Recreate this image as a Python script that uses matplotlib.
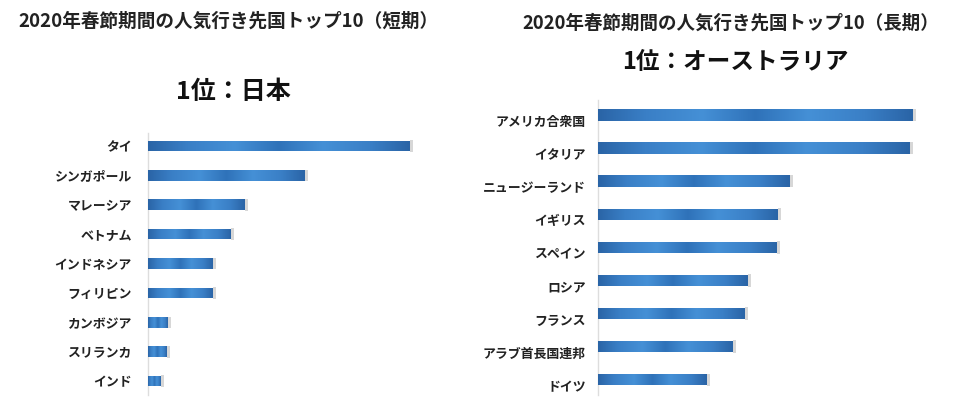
import matplotlib
matplotlib.use("Agg")
import matplotlib.pyplot as plt
import matplotlib.transforms as mtransforms
from matplotlib.colors import LinearSegmentedColormap
import numpy as np

plt.rcParams['font.family'] = ['Noto Sans CJK JP', 'DejaVu Sans']

# ---- data ----
title_short = "2020年春節期間の人気行き先国トップ10（短期）"
sub_short = "1位：日本"
cats_short = ["タイ", "シンガポール", "マレーシア", "ベトナム", "インドネシア",
              "フィリピン", "カンボジア", "スリランカ", "インド"]
vals_short = [261, 156, 96, 82, 64, 64, 19, 18, 12]

title_long = "2020年春節期間の人気行き先国トップ10（長期）"
sub_long = "1位：オーストラリア"
cats_long = ["アメリカ合衆国", "イタリア", "ニュージーランド", "イギリス", "スペイン",
             "ロシア", "フランス", "アラブ首長国連邦", "ドイツ"]
vals_long = [314, 311, 191, 179, 178, 149, 146, 134, 108]

W, H = 962, 411
fig = plt.figure(figsize=(W / 100, H / 100), dpi=100)
fig.patch.set_facecolor("white")

cmap = LinearSegmentedColormap.from_list("bar", [
    (0.0, "#2a64a6"), (0.15, "#3a7fc6"), (0.33, "#4590d6"),
    (0.5, "#2f72b9"), (0.67, "#4590d6"), (0.85, "#3a7fc6"), (1.0, "#2a64a6")])
grad = np.linspace(0, 1, 256).reshape(1, -1)


def panel(rect_px, cats, vals, xmax, ylim, bar_h, label_pad, label_dy):
    l, r, t, b = rect_px
    ax = fig.add_axes([l / W, 1 - b / H, (r - l) / W, (b - t) / H])
    y = np.arange(len(cats))
    bars = ax.barh(y, vals, height=bar_h, color="#3a7fc6", zorder=2)
    for rect in bars:
        x0, y0 = rect.get_x(), rect.get_y()
        w, h = rect.get_width(), rect.get_height()
        # soft shadow at right end
        ax.barh(y0 + h / 2, 3, left=x0 + w, height=h * 1.1,
                color="#b0b0b0", alpha=0.5, zorder=1)
        im = ax.imshow(grad, extent=(x0, x0 + w, y0 + h, y0), cmap=cmap,
                       aspect="auto", zorder=3, interpolation="bilinear")
        im.set_clip_path(rect)
    ax.set_xlim(0, xmax)
    ax.set_ylim(*ylim)
    ax.set_yticks(y)
    ax.set_yticklabels(cats, fontsize=9.3, fontweight="bold", color="#222222")
    ax.tick_params(axis="y", length=0, pad=label_pad)
    ax.set_xticks([])
    for s in ["top", "right", "bottom"]:
        ax.spines[s].set_visible(False)
    ax.spines["left"].set_color("#dddddd")
    ax.spines["left"].set_linewidth(1.0)
    if label_dy:
        off = mtransforms.ScaledTranslation(0, -label_dy / 72, fig.dpi_scale_trans)
        for lab in ax.get_yticklabels():
            lab.set_transform(lab.get_transform() + off)
    return ax


panel((148.5, 460, 133, 395), cats_short, vals_short, 311, (8.47, -0.44), 0.36, 12, 0)
panel((598.5, 940, 100, 395), cats_long, vals_long, 341, (8.46, -0.45), 0.34, 9, 4)

fig.text(18 / W, 1 - 21 / H, title_short, ha="left", va="center",
         fontsize=13.4, fontweight="bold", color="#222222")
fig.text(233 / W, 1 - 92 / H, sub_short, ha="center", va="center",
         fontsize=18, fontweight="bold", color="#111111")
fig.text(522 / W, 1 - 23 / H, title_long, ha="left", va="center",
         fontsize=13.3, fontweight="bold", color="#222222")
fig.text(735 / W, 1 - 62 / H, sub_long, ha="center", va="center",
         fontsize=17, fontweight="bold", color="#111111")

fig.savefig("out.png", dpi=100, facecolor="white")
